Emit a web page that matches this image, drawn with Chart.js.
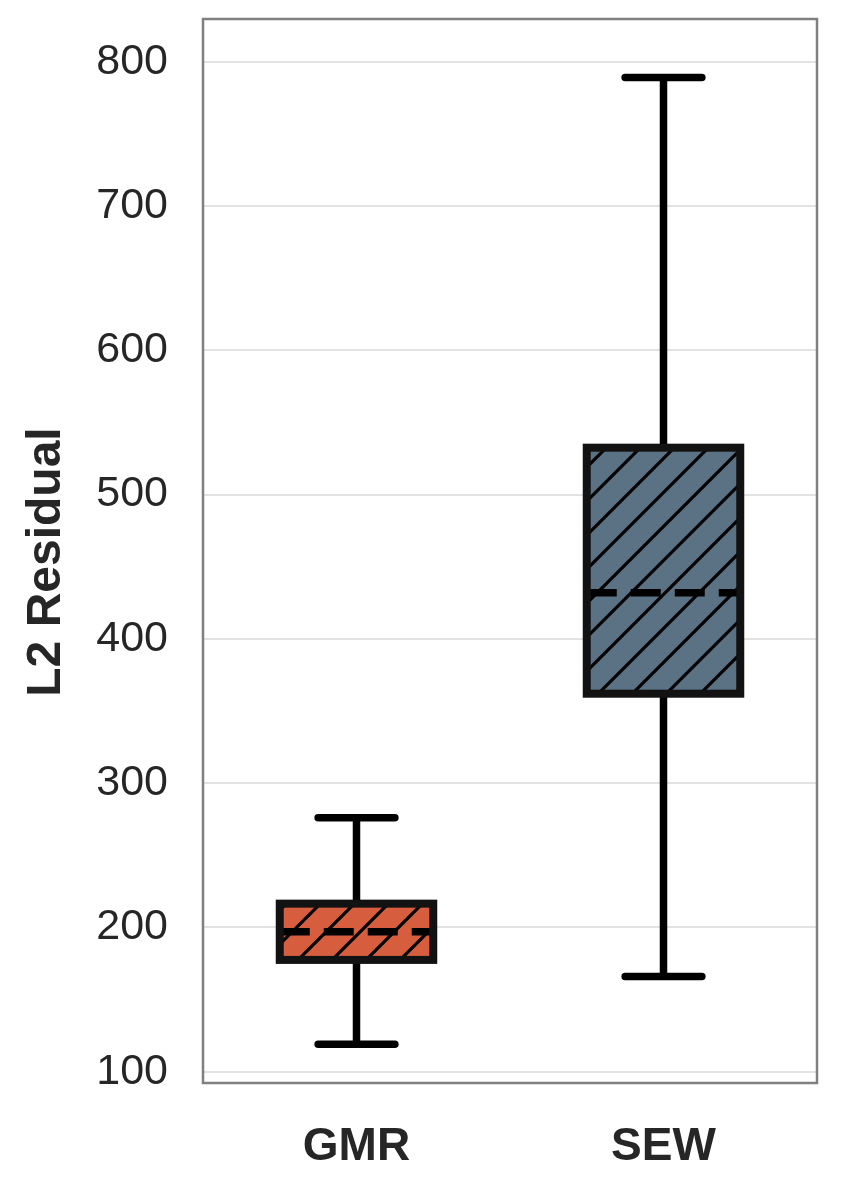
<!DOCTYPE html>
<html>
<head>
<meta charset="utf-8">
<script src="https://cdn.jsdelivr.net/npm/chart.js@4.4.1/dist/chart.umd.min.js"></script>
<style>
  html, body { margin: 0; padding: 0; background: #fff; }
  #wrap { width: 842px; height: 1199px; }
</style>
</head>
<body>
<div id="wrap"><canvas id="boxChart" width="842" height="1199"></canvas></div>
<script>
// --- data ---
const categories = ["GMR", "SEW"];
const whiskerLow = [119, 166];
const q1 = [177.5, 362];
const median = [197, 432];
const q3 = [216.5, 532.5];
const whiskerHigh = [276, 789];
const yTicks = [100, 200, 300, 400, 500, 600, 700, 800];
const boxColors = ["#d65e3e", "#5b7285"];
const yTitle = "L2 Residual";

const FONT = "'Liberation Sans', Arial, Helvetica, sans-serif";
const TEXT = "#262626";

// hatch fill "/"
function hatch(color) {
  const s = 34;
  const c = document.createElement("canvas");
  c.width = s; c.height = s;
  const g = c.getContext("2d");
  g.fillStyle = color;
  g.fillRect(0, 0, s, s);
  g.strokeStyle = "#000";
  g.lineWidth = 3.2;
  g.beginPath();
  g.moveTo(-s / 2, s / 2); g.lineTo(s / 2, -s / 2);
  g.moveTo(0, s); g.lineTo(s, 0);
  g.moveTo(s / 2, s * 1.5); g.lineTo(s * 1.5, s / 2);
  g.stroke();
  return g.createPattern(c, "repeat");
}

function line(ctx, x1, y1, x2, y2) {
  ctx.beginPath();
  ctx.moveTo(x1, y1);
  ctx.lineTo(x2, y2);
  ctx.stroke();
}

// whiskers, caps, median, box edges
const boxParts = {
  id: "boxParts",
  afterDatasetsDraw(chart) {
    const ctx = chart.ctx;
    const y = chart.scales.y;
    const bars = chart.getDatasetMeta(0).data;
    ctx.save();
    bars.forEach((bar, i) => {
      const half = bar.width / 2;
      const yLo = y.getPixelForValue(whiskerLow[i]);
      const yHi = y.getPixelForValue(whiskerHigh[i]);
      const yQ1 = y.getPixelForValue(q1[i]);
      const yQ3 = y.getPixelForValue(q3[i]);
      const yMed = y.getPixelForValue(median[i]);

      ctx.strokeStyle = "#000";
      ctx.lineWidth = 7.5;
      ctx.lineCap = "butt";
      line(ctx, bar.x, yQ3, bar.x, yHi);
      line(ctx, bar.x, yQ1, bar.x, yLo);
      ctx.lineCap = "round";
      line(ctx, bar.x - half / 2, yHi, bar.x + half / 2, yHi);
      line(ctx, bar.x - half / 2, yLo, bar.x + half / 2, yLo);

      ctx.lineCap = "butt";
      ctx.setLineDash([30, 14]);
      line(ctx, bar.x - half, yMed, bar.x + half, yMed);
      ctx.setLineDash([]);

      ctx.strokeStyle = "#121212";
      ctx.lineWidth = 8;
      ctx.strokeRect(bar.x - half, yQ3, bar.width, yQ1 - yQ3);
    });
    ctx.restore();
  },
  afterDraw(chart) {
    const ctx = chart.ctx;
    const a = chart.chartArea;
    ctx.save();
    // frame
    ctx.strokeStyle = "#808080";
    ctx.lineWidth = 2.5;
    ctx.strokeRect(a.left, a.top, a.right - a.left, a.bottom - a.top);
    // y title
    ctx.translate(47, 562);
    ctx.rotate(-Math.PI / 2);
    ctx.fillStyle = TEXT;
    ctx.font = "bold 48px " + FONT;
    ctx.textAlign = "center";
    ctx.textBaseline = "middle";
    ctx.fillText(yTitle, 0, 0);
    ctx.restore();
  }
};

const ctx = document.getElementById("boxChart").getContext("2d");
new Chart(ctx, {
  type: "bar",
  data: {
    labels: categories,
    datasets: [{
      data: categories.map((_, i) => [q1[i], q3[i]]),
      backgroundColor: boxColors.map(hatch),
      borderWidth: 0,
      barPercentage: 0.5,
      categoryPercentage: 1
    }]
  },
  options: {
    responsive: false,
    animation: false,
    layout: { padding: { top: 19, right: 25, left: 0, bottom: 0 } },
    plugins: { legend: { display: false }, tooltip: { enabled: false } },
    scales: {
      x: {
        grid: { display: false, drawTicks: false },
        border: { display: false },
        ticks: { color: TEXT, font: { family: FONT, size: 46, weight: "bold" }, padding: 37 },
        afterFit: s => { s.height = 116; s.paddingLeft = 0; s.paddingRight = 0; }
      },
      y: {
        min: 92.2,
        max: 829.6,
        grid: { color: "#e2e2e2", lineWidth: 2, drawTicks: false },
        border: { display: false },
        ticks: { color: TEXT, font: { family: FONT, size: 43 }, padding: 35 },
        afterBuildTicks: s => { s.ticks = yTicks.map(v => ({ value: v })); },
        afterFit: s => { s.width = 203; s.paddingTop = 0; s.paddingBottom = 0; }
      }
    }
  },
  plugins: [boxParts]
});
</script>
</body>
</html>
